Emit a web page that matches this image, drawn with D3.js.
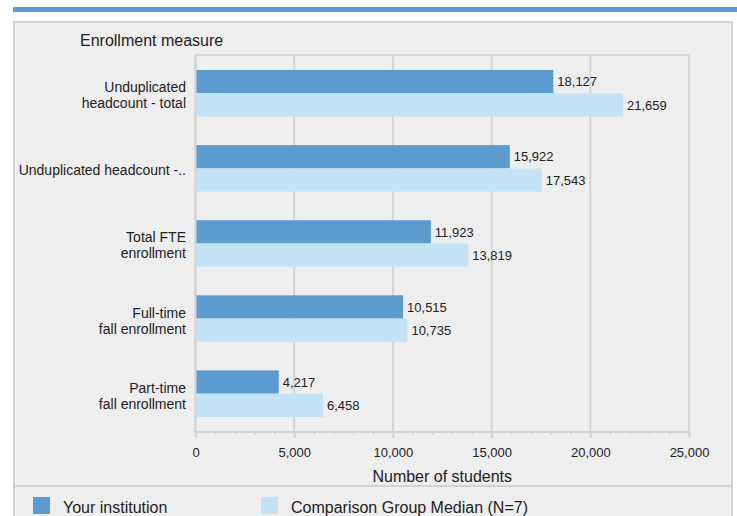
<!DOCTYPE html>
<html>
<head>
<meta charset="utf-8">
<script src="https://cdn.jsdelivr.net/npm/d3@7"></script>
<style>
  body { margin: 0; background: #fff; }
  text { font-family: "Liberation Sans", Arial, sans-serif; fill: #222; }
</style>
</head>
<body>
<div id="chart"></div>
<script>
// data
const categories = [
  ["Unduplicated", "headcount - total"],
  ["Unduplicated headcount -.."],
  ["Total FTE", "enrollment"],
  ["Full-time", "fall enrollment"],
  ["Part-time", "fall enrollment"]
];
const institution = [18127, 15922, 11923, 10515, 4217];
const groupMedian = [21659, 17543, 13819, 10735, 6458];
const seriesNames = ["Your institution", "Comparison Group Median (N=7)"];
const xTicks = [0, 5000, 10000, 15000, 20000, 25000];

const W = 737, H = 516;
const dark = "#5b9bd0", light = "#c5e3f6", grid = "#d4d4d4";

let data = categories.map((c, i) => ({
  key: c.join(" "),
  lines: c,
  values: [institution[i], groupMedian[i]]
}));

let svg = d3.select("#chart").append("svg")
  .attr("width", W).attr("height", H);

// top stripe
svg.append("rect").attr("x", 13).attr("y", 7).attr("width", W - 13).attr("height", 5)
  .attr("fill", dark);

// panel
svg.append("rect").attr("x", 14).attr("y", 22).attr("width", 718).attr("height", 520)
  .attr("fill", "#eeeeee").attr("stroke", "#d3d3d3").attr("stroke-width", 2);

svg.append("text").attr("x", 80).attr("y", 46).style("font-size", "16px")
  .text("Enrollment measure");

let plot = {left: 195.5, right: 689, top: 55, bottom: 432};

var x = d3.scaleLinear().domain([0, 25000]).range([plot.left, plot.right]);
var y = d3.scaleBand().domain(data.map(d => d.key))
  .range([plot.top, plot.bottom]).paddingInner(0.38).paddingOuter(0.2);
var ySub = d3.scaleBand().domain([0, 1]).range([0, y.bandwidth()]);

// frame + gridlines
svg.append("rect").attr("x", plot.left).attr("y", plot.top)
  .attr("width", plot.right - plot.left).attr("height", plot.bottom - plot.top)
  .attr("fill", "none").attr("stroke", grid).attr("stroke-width", 2);

svg.append("g").selectAll("line").data(xTicks).join("line")
  .attr("x1", d => x(d)).attr("x2", d => x(d))
  .attr("y1", plot.top).attr("y2", plot.bottom)
  .attr("stroke", grid).attr("stroke-width", 2);

// minor ticks
var minor = svg.append("g").attr("transform", "translate(0," + plot.bottom + ")")
  .call(d3.axisBottom(x).ticks(25).tickSize(3).tickFormat(""));
minor.select(".domain").remove();
minor.selectAll("line").attr("stroke", grid).attr("stroke-width", 1.5);

// major ticks + labels
var xAxis = svg.append("g").attr("transform", "translate(0," + plot.bottom + ")")
  .call(d3.axisBottom(x).tickValues(xTicks).tickSize(6).tickPadding(10)
    .tickFormat(d3.format(",")));
xAxis.select(".domain").remove();
xAxis.selectAll("line").attr("stroke", grid).attr("stroke-width", 2);
xAxis.selectAll("text").style("font-size", "13px").attr("fill", "#222")
  .style("font-family", '"Liberation Sans", Arial, sans-serif');

svg.append("text").attr("x", (plot.left + plot.right) / 2).attr("y", 482)
  .attr("text-anchor", "middle").style("font-size", "16px").text("Number of students");

// bars
let groups = svg.append("g").selectAll("g").data(data).join("g")
  .attr("transform", d => "translate(0," + y(d.key) + ")");

groups.selectAll("rect").data(d => d.values).join("rect")
  .attr("x", x(0) + 1)
  .attr("y", (v, i) => ySub(i))
  .attr("width", v => x(v) - x(0) - 1)
  .attr("height", ySub.bandwidth())
  .attr("fill", (v, i) => i == 0 ? dark : light);

groups.selectAll("text.val").data(d => d.values).join("text")
  .attr("class", "val")
  .attr("x", v => x(v) + 4)
  .attr("y", (v, i) => ySub(i) + ySub.bandwidth() / 2)
  .attr("dy", "0.36em")
  .style("font-size", "13px")
  .text(v => d3.format(",")(v));

// category labels
let labels = groups.append("text").attr("text-anchor", "end").style("font-size", "14px")
  .attr("y", d => y.bandwidth() / 2 + 7 - (d.lines.length - 1) * 8);
labels.selectAll("tspan").data(d => d.lines).join("tspan")
  .attr("x", 186).attr("dy", (t, i) => i == 0 ? 0 : 16).text(t => t);

// legend
svg.append("line").attr("x1", 14).attr("x2", 732).attr("y1", 486).attr("y2", 486)
  .attr("stroke", "#d3d3d3").attr("stroke-width", 2);

let legX = [33, 261];
let leg = svg.append("g").selectAll("g").data(seriesNames).join("g")
  .attr("transform", (d, i) => "translate(" + legX[i] + ",497)");
leg.append("rect").attr("width", 17).attr("height", 17)
  .attr("fill", (d, i) => i == 0 ? dark : light);
leg.append("text").attr("x", 30).attr("y", 16).style("font-size", "16px").text(d => d);
</script>
</body>
</html>
